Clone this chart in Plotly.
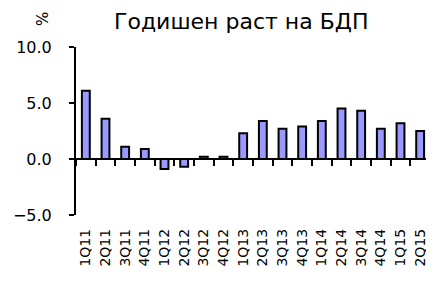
import plotly.graph_objects as go

categories = ["1Q11","2Q11","3Q11","4Q11","1Q12","2Q12","3Q12","4Q12",
              "1Q13","2Q13","3Q13","4Q13","1Q14","2Q14","3Q14","4Q14","1Q15","2Q15"]
growth = [6.1, 3.6, 1.1, 0.9, -0.9, -0.7, 0.2, 0.2,
          2.3, 3.4, 2.7, 2.9, 3.4, 4.5, 4.3, 2.7, 3.2, 2.5]
y_ticks = [-5, 0, 5, 10]

FONT = "DejaVu Sans"
OFF = 8  # page body margin
L, R, T, B = 76 - OFF, 4, 47 - OFF, 71
W, H = 434 - OFF, 286 - OFF
PW, PH = W - L - R, H - T - B

fig = go.Figure()
fig.add_trace(go.Bar(
    x=categories, y=growth,
    marker=dict(color="#9999FF", line=dict(color="black", width=2)),
    xaxis="x", yaxis="y", showlegend=False, hoverinfo="skip",
))
# invisible trace to carry the zero-line axis
fig.add_trace(go.Scatter(
    x=categories, y=[None]*len(categories), mode="lines",
    xaxis="x2", yaxis="y", showlegend=False, hoverinfo="skip",
))

fig.update_layout(
    width=W, height=H,
    margin=dict(l=L, r=R, t=T, b=B, autoexpand=False),
    paper_bgcolor="white", plot_bgcolor="white",
    bargap=0.6,
    font=dict(family=FONT, size=16, color="black"),
    xaxis=dict(
        type="category", categoryorder="array", categoryarray=categories,
        showline=False, showgrid=False, zeroline=False, automargin=False,
        ticks="", tickangle=-90, ticklabelstandoff=10,
        tickfont=dict(family=FONT, size=14),
    ),
    xaxis2=dict(
        type="category", categoryorder="array", categoryarray=categories,
        matches="x", overlaying="x", anchor="free", position=1/3,
        showline=True, linecolor="black", linewidth=2, automargin=False,
        ticks="outside", ticklen=6, tickwidth=2, tickcolor="black",
        tickson="boundaries", showticklabels=False,
        showgrid=False, zeroline=False,
    ),
    yaxis=dict(
        range=[-5, 10], tickvals=y_ticks, tickformat=".1f", automargin=False,
        showline=True, linecolor="black", linewidth=2,
        ticks="outside", ticklen=5, tickwidth=2, tickcolor="black",
        showgrid=False, zeroline=False, ticklabelstandoff=14,
        tickfont=dict(family=FONT, size=16),
    ),
)
fig.add_annotation(text="Годишен раст на БДП", xref="paper", yref="paper",
                   x=(241 - OFF - L) / PW, y=1 + (T - (21 - OFF)) / PH,
                   showarrow=False, font=dict(family=FONT, size=22),
                   xanchor="center", yanchor="middle")
fig.add_annotation(text="%", textangle=-90, xref="paper", yref="paper",
                   x=(43 - OFF - L) / PW, y=1 + (T - (19 - OFF)) / PH,
                   showarrow=False, font=dict(family=FONT, size=15),
                   xanchor="center", yanchor="middle")

fig.write_html("out.html")
